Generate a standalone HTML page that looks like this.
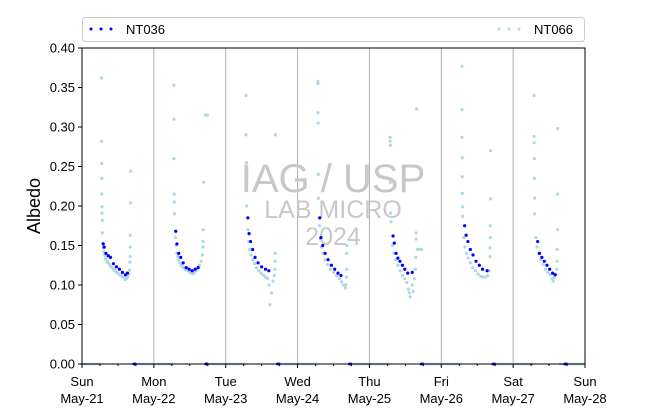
<!DOCTYPE html>
<html><head><meta charset="utf-8"><style>
body{margin:0;background:#fff;font-family:"Liberation Sans",sans-serif}
svg text{font-family:"Liberation Sans",sans-serif}
</style></head><body>
<svg id="c" width="650" height="409" xmlns="http://www.w3.org/2000/svg">
<rect x="0" y="0" width="650" height="409" fill="#fff"/>
<g id="grid"></g>
<g id="wm">
<text x="333" y="192" font-size="40" fill="#c8c8c8" text-anchor="middle">IAG / USP</text>
<text x="333" y="218" font-size="25" fill="#c8c8c8" text-anchor="middle">LAB MICRO</text>
<text x="333" y="245" font-size="25" fill="#c8c8c8" text-anchor="middle">2024</text>
</g>
<g id="marks"></g>
<rect x="82" y="48" width="503" height="316" fill="none" stroke="#000" stroke-width="1"/>
<g id="axes"></g>
<text transform="translate(40,206) rotate(-90)" font-size="18" text-anchor="middle">Albedo</text>
<g>
<rect x="82.5" y="17.5" width="502" height="24" rx="3" fill="#fff" stroke="#ccc"/>
<g>
<circle cx="91" cy="29" r="1.5" fill="#0000ff"/><circle cx="101" cy="29" r="1.5" fill="#0000ff"/><circle cx="111" cy="29" r="1.5" fill="#0000ff"/>
<text x="126" y="34" font-size="13">NT036</text></g>
<g>
<circle cx="499" cy="29" r="1.5" fill="#add8e6"/><circle cx="509" cy="29" r="1.5" fill="#add8e6"/><circle cx="519" cy="29" r="1.5" fill="#add8e6"/>
<text x="534" y="34" font-size="13">NT066</text></g>
</g>
</svg>
<script>
// data: [hour since Sun May-21 00:00, albedo]
const dayLabels = ["Sun","Mon","Tue","Wed","Thu","Fri","Sat","Sun"];
const dateLabels = ["May-21","May-22","May-23","May-24","May-25","May-26","May-27","May-28"];
const yTicks = [0,0.05,0.10,0.15,0.20,0.25,0.30,0.35,0.40];
const yTickLabels = ["0.00","0.05","0.10","0.15","0.20","0.25","0.30","0.35","0.40"];
const nt066Day = [
 [[6.5,.362],[6.6,.282],[6.6,.254],[6.6,.235],[6.6,.215],[6.7,.199],[6.7,.191],[6.8,.182],[6.8,.166],[7.0,.153],[7.2,.147],[7.3,.142],[7.6,.138],[7.8,.133],[8.0,.135],[8.3,.129],[8.5,.13],[9,.127],[9.5,.124],[10,.122],[10.5,.12],[11,.118],[11.5,.116],[12,.115],[12.5,.113],[13,.112],[13.5,.11],[14,.11],[14.4,.107],[14.8,.108],[15.2,.11],[15.5,.113],[15.9,.119],[16.0,.129],[16.1,.136],[16.1,.148],[16.1,.163],[16.2,.204],[16.2,.244]],
 [[30.7,.353],[30.7,.31],[30.7,.26],[30.8,.215],[30.8,.205],[30.9,.19],[31.2,.16],[31.4,.15],[31.7,.14],[32,.136],[32.3,.132],[32.7,.128],[33.2,.125],[33.8,.122],[34.5,.12],[35.2,.118],[36,.116],[36.8,.114],[37.4,.115],[38,.118],[38.6,.121],[39.2,.125],[39.8,.13],[40.2,.138],[40.4,.148],[40.4,.155],[40.5,.17],[40.6,.23],[41.2,.315],[41.5,.315],[41.8,.315]],
 [[54.8,.34],[54.8,.29],[54.9,.255],[54.9,.225],[55,.2],[55.4,.17],[55.7,.155],[56,.145],[56.4,.138],[57,.132],[57.6,.127],[58.3,.122],[59,.118],[59.8,.115],[60.6,.112],[61.3,.11],[62,.108],[62.5,.1],[62.8,.075],[63.3,.09],[63.8,.105],[64.2,.112],[64.4,.12],[64.5,.13],[64.5,.14],[64.6,.29]],
 [[78.8,.358],[78.8,.355],[78.8,.318],[78.9,.305],[78.9,.24],[79,.21],[79.3,.175],[79.6,.158],[80,.148],[80.5,.14],[81.2,.132],[82,.126],[83,.12],[84,.116],[85,.112],[86,.108],[86.7,.104],[87.4,.1],[87.9,.096],[88.2,.1],[88.3,.11],[88.4,.12],[88.4,.14],[88.5,.15]],
 [[102.9,.287],[102.9,.282],[103,.277],[103,.25],[103,.23],[103.1,.191],[103.2,.18],[103.7,.15],[104.2,.14],[104.8,.132],[105.5,.125],[106.3,.118],[107,.112],[107.8,.108],[108.5,.103],[109,.095],[109.3,.09],[109.6,.085],[110.3,.1],[110.6,.092],[111,.108],[111.3,.12],[111.5,.135],[111.6,.158],[111.6,.166],[111.8,.323],[112,.145],[112.6,.145],[113.4,.145]],
 [[126.9,.377],[126.9,.322],[126.9,.287],[127,.261],[127,.237],[127,.216],[127.1,.199],[127.1,.187],[127.5,.16],[127.9,.148],[128.4,.14],[129,.134],[129.7,.128],[130.5,.122],[131.4,.118],[132.3,.114],[133.2,.111],[134,.11],[134.8,.11],[135.5,.112],[136,.118],[136.3,.136],[136.3,.147],[136.4,.16],[136.4,.175],[136.4,.209],[136.5,.27]],
 [[151,.34],[151,.288],[151,.28],[151.1,.26],[151.1,.235],[151.2,.21],[151.2,.19],[151.6,.16],[152,.148],[152.5,.14],[153.2,.132],[154,.126],[154.8,.12],[155.6,.116],[156.4,.113],[157,.108],[157.4,.105],[157.8,.11],[158.3,.113],[158.6,.12],[158.7,.13],[158.7,.145],[158.8,.17],[158.8,.215],[158.9,.298]]
];
const nt036Day = [
 [[7.1,.152],[7.4,.148],[8.0,.14],[8.8,.137],[9.5,.135],[10.5,.127],[11.5,.123],[12.5,.12],[13.5,.116],[14.5,.113],[15.2,.115]],
 [[31.3,.168],[31.7,.152],[32.3,.14],[33,.135],[33.8,.128],[34.8,.122],[35.8,.12],[36.8,.118],[37.8,.12],[38.8,.122]],
 [[55.4,.185],[55.8,.165],[56.3,.155],[57,.145],[57.8,.135],[58.8,.128],[60,.123],[61.3,.12],[62.4,.118]],
 [[79.4,.185],[79.8,.16],[80.4,.15],[81.2,.14],[82.2,.132],[83.3,.125],[84.4,.12],[85.5,.115],[86.5,.112]],
 [[103.9,.162],[104.3,.153],[104.9,.14],[105.5,.134],[106.2,.13],[107,.125],[107.8,.12],[108.8,.115],[110.3,.116]],
 [[127.8,.175],[128.3,.163],[128.9,.155],[129.7,.145],[130.6,.138],[131.6,.13],[132.7,.125],[133.8,.12],[135.3,.118]],
 [[152.2,.155],[152.8,.14],[153.6,.135],[154.4,.13],[155.3,.125],[156.2,.12],[157.2,.115],[158,.113]]
];
const nt066Night = [[0,6.4],[17.2,30.5],[42.3,54.6],[65.3,78.6],[89.5,102.7],[114,126.7],[137,150.8],[159.6,168]];
const nt036Zero = [[17.3,18],[41.3,42],[65.3,66],[89.3,90],[113.3,114],[137.3,138],[161.3,162]];

const X0=82,X1=585,Y0=364,Y1=48;
const xs=h=>X0+(h/168)*(X1-X0);
const ys=v=>Y0-(v/0.4)*(Y0-Y1);
const NS="http://www.w3.org/2000/svg";
const grid=document.getElementById('grid'),marks=document.getElementById('marks'),axes=document.getElementById('axes');
function mk(tag,attrs,parent){const e=document.createElementNS(NS,tag);for(const k in attrs)e.setAttribute(k,attrs[k]);parent.appendChild(e);return e;}
for(let d=1;d<7;d++){
 const g=mk('line',{x1:xs(d*24),x2:xs(d*24),y1:Y1,y2:Y0,stroke:'#b0b0b0','stroke-width':1},grid);
 
 
}
function dot(h,v,col,parent,r){
 return mk('circle',{cx:xs(h),cy:ys(v),r:r||1.6,fill:col},parent);
}
const g66=mk('g',{},marks);


nt066Night.forEach(([a,b])=>{for(let h=a;h<=b;h+=0.5){const c=dot(h,0,'#add8e6',g66,1.3);
 
 }});
nt066Day.forEach(day=>day.forEach(([h,v])=>{const c=dot(h,v,'#add8e6',g66);
 
 }));
const g36=mk('g',{},marks);


nt036Zero.forEach(([a,b])=>{for(let h=a;h<=b;h+=0.25){const c=dot(h,0,'#0000ff',g36,1.4);
 
 }});
nt036Day.forEach(day=>day.forEach(([h,v])=>{const c=dot(h,v,'#0000ff',g36);
 
 }));
yTicks.forEach((t,i)=>{
 mk('line',{x1:X0-4,x2:X0,y1:ys(t),y2:ys(t),stroke:'#000'},axes);
 const tx=mk('text',{x:X0-7,y:ys(t)+4.5,'font-size':13,'text-anchor':'end'},axes);
 tx.textContent=yTickLabels[i];
 
 
});
for(let q=0;q<=28;q++){
 const major=q%4===0;
 mk('line',{x1:xs(q*6),x2:xs(q*6),y1:Y0,y2:Y0+(major?4:2),stroke:'#000'},axes);
}
dayLabels.forEach((d,i)=>{
 const t1=mk('text',{x:xs(i*24),y:386,'font-size':13,'text-anchor':'middle'},axes);
 t1.textContent=d;
 
 
 const t2=mk('text',{x:xs(i*24),y:403,'font-size':13,'text-anchor':'middle'},axes);
 t2.textContent=dateLabels[i];
 
 
});
</script>
</body></html>
